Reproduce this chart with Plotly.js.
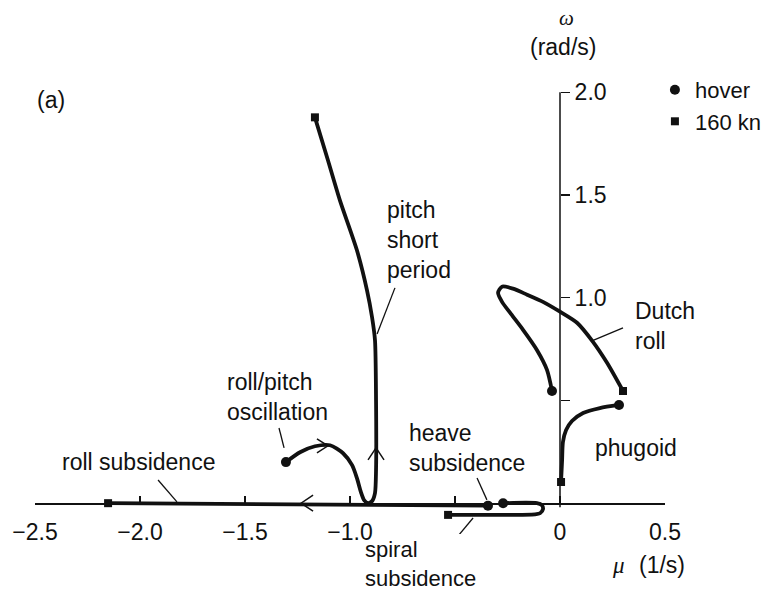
<!DOCTYPE html>
<html>
<head>
<meta charset="utf-8">
<script src="https://cdn.plot.ly/plotly-3.0.1.min.js"></script>
<style>
  html, body { margin: 0; padding: 0; background: #fff; }
  #chart { width: 764px; height: 598px; }
</style>
</head>
<body>
<div id="chart"></div>
<script>
// Root loci of the helicopter modes; each path runs from hover (first point) to 160 kn (last point).
// Real part mu (1/s) on x, frequency omega (rad/s) on y.

// roll/pitch oscillation at hover, becoming the pitch short period mode at speed
const pitchX = [-1.305, -1.238, -1.167, -1.095, -1.033, -0.990, -0.967, -0.948, -0.933, -0.914, -0.895,
                -0.881, -0.876, -0.876, -0.881, -0.895, -0.919, -0.967, -1.048, -1.105, -1.167];
const pitchY = [0.200, 0.248, 0.277, 0.282, 0.243, 0.185, 0.122, 0.054, 0.015, 0.000, 0.010,
                0.049, 0.161, 0.501, 0.793, 0.905, 1.036, 1.231, 1.474, 1.669, 1.878];

// Dutch roll
const dutchX = [-0.038, -0.062, -0.110, -0.176, -0.238, -0.276, -0.295, -0.276, -0.224, -0.157, -0.081,
                0.000, 0.081, 0.157, 0.224, 0.300];
const dutchY = [0.546, 0.649, 0.746, 0.844, 0.927, 0.980, 1.024, 1.054, 1.044, 1.015, 0.980,
                0.932, 0.878, 0.785, 0.683, 0.546];

// phugoid
const phugoidX = [0.281, 0.190, 0.110, 0.057, 0.029, 0.014, 0.010, 0.005];
const phugoidY = [0.478, 0.463, 0.439, 0.400, 0.356, 0.298, 0.210, 0.103];

// spiral subsidence (drawn just below the real axis on its way back)
const spiralX = [-0.271, -0.110, -0.086, -0.081, -0.095, -0.119, -0.533];
const spiralY = [0.000, 0.000, -0.010, -0.029, -0.049, -0.054, -0.057];

// heave and roll subsidence along the real axis
const realX = [-0.343, -2.152];
const realY = [-0.012, 0.000];

// direction-of-travel chevrons along the loci
const arrowX = [-1.105, -0.876, -1.233];
const arrowY = [0.279, 0.269, 0.000];
const arrowPaths = ['M -11,7 L 0,0 L -11,-7', 'M -8,-12 L 0,0 L 8,-12', 'M 12,8 L 0,0 L 12,-8'];

// axis ticks
const xTickVals = [-2.5, -2.0, -1.5, -1.0, -0.5, 0, 0.5];
const xTickText = ['\u22122.5', '\u22122.0', '\u22121.5', '\u22121.0', '', '0', '0.5'];
const yTickVals = [0.5, 1.0, 1.5, 2.0];
const yTickText = ['', '1.0', '1.5', '2.0'];

const paths = [
  [pitchX, pitchY, 'spline'],
  [dutchX, dutchY, 'spline'],
  [phugoidX, phugoidY, 'spline'],
  [spiralX, spiralY, 'spline'],
  [realX, realY, 'linear']
];

const ink = '#111';
const sans = 'Liberation Sans, Arial, Helvetica, sans-serif';
const serif = 'Liberation Serif, Times New Roman, serif';
const fs = 23;

const traces = paths.map(([x, y, shape]) => ({
  type: 'scatter', mode: 'lines', x: x, y: y, showlegend: false, hoverinfo: 'skip',
  line: { color: ink, width: 3.8, shape: shape, smoothing: 0.7 }
}));

traces.push({
  type: 'scatter', mode: 'markers', name: 'hover',
  x: paths.map(p => p[0][0]), y: paths.map(p => p[1][0]),
  marker: { symbol: 'circle', size: 10, color: ink }, cliponaxis: false
});
traces.push({
  type: 'scatter', mode: 'markers', name: '160 kn',
  x: paths.map(p => p[0][p[0].length - 1]), y: paths.map(p => p[1][p[1].length - 1]),
  marker: { symbol: 'square', size: 8, color: ink }, cliponaxis: false
});

// leader lines from the labels to the loci
const leaders = [
  [-0.786, 1.048, -0.871, 0.824],
  [0.300, 0.853, 0.152, 0.790],
  [-1.338, 0.366, -1.314, 0.269],
  [-0.395, 0.123, -0.348, 0.016],
  [-1.914, 0.113, -1.824, 0.006],
  [-0.414, -0.072, -0.533, -0.218]
];

const shapes = [
  { type: 'line', xref: 'x', yref: 'y', x0: 0, x1: 0, y0: -0.02, y1: 2.0, layer: 'below',
    line: { color: ink, width: 1.5 } }
];
leaders.forEach(([x0, y0, x1, y1]) => shapes.push({
  type: 'line', xref: 'x', yref: 'y', x0, y0, x1, y1, line: { color: ink, width: 1.3 }
}));
arrowX.forEach((x, i) => shapes.push({
  type: 'path', xref: 'x', yref: 'y', xsizemode: 'pixel', ysizemode: 'pixel',
  xanchor: x, yanchor: arrowY[i], path: arrowPaths[i], line: { color: ink, width: 1.5 }
}));

function label(text, x, y, xanchor, extra) {
  return Object.assign({
    text: text, x: x, y: y, xref: 'x', yref: 'y', xanchor: xanchor, yanchor: 'middle',
    align: 'left', showarrow: false, font: { family: sans, size: fs, color: ink }
  }, extra || {});
}
const onPaper = { xref: 'paper', yref: 'paper' };

const annotations = [
  label('(a)', -2.424, 1.963, 'center'),
  label('<i>\u03c9</i>', 0.8444, 1.1416, 'center',
        Object.assign({ font: { family: serif, size: 21, color: ink } }, onPaper)),
  label('(rad/s)', 0.8381, 1.0774, 'center', onPaper),
  label('pitch<br>short<br>period', -0.833, 1.281, 'left'),
  label('Dutch<br>roll', 0.348, 0.863, 'left'),
  label('roll/pitch<br>oscillation', -1.595, 0.519, 'left'),
  label('heave<br>subsidence', -0.729, 0.271, 'left'),
  label('phugoid', 0.157, 0.269, 'left'),
  label('roll subsidence', -2.381, 0.201, 'left'),
  label('spiral<br>subsidence', 0.5206, -0.0664, 'left',
        Object.assign({ font: { family: sans, size: 22, color: ink } }, onPaper)),
  label('<i>\u03bc</i>', 0.9254, -0.0686, 'center',
        Object.assign({ font: { family: serif, size: 23, color: ink } }, onPaper)),
  label('(1/s)', 0.9556, -0.0686, 'left', onPaper)
];

const layout = {
  width: 764, height: 598,
  margin: { l: 35, r: 99, t: 82, b: 64, autoexpand: false },
  paper_bgcolor: '#fff', plot_bgcolor: '#fff',
  font: { family: sans, size: fs, color: ink },
  showlegend: true,
  legend: {
    x: 0.984, xanchor: 'left', y: 1.029, yanchor: 'top',
    bgcolor: 'rgba(0,0,0,0)', borderwidth: 0, tracegroupgap: 0, itemwidth: 30,
    font: { family: sans, size: 22, color: ink }
  },
  xaxis: {
    range: [-2.5, 0.5], anchor: 'free', position: 0.15 / 2.2,
    showline: true, linecolor: ink, linewidth: 1.5,
    ticks: 'inside', ticklen: 7, tickwidth: 1.5, tickcolor: ink,
    tickmode: 'array', tickvals: xTickVals, ticktext: xTickText,
    tickfont: { family: sans, size: fs, color: ink }, ticklabelstandoff: 8,
    showgrid: false, zeroline: false, fixedrange: true
  },
  yaxis: {
    range: [-0.15, 2.05], anchor: 'free', position: 2.5 / 3, side: 'right',
    showline: false,
    ticks: 'outside', ticklen: 9, tickwidth: 1.5, tickcolor: ink,
    tickmode: 'array', tickvals: yTickVals, ticktext: yTickText,
    tickfont: { family: sans, size: fs, color: ink }, ticklabelstandoff: 0,
    showgrid: false, zeroline: false, fixedrange: true
  },
  shapes: shapes,
  annotations: annotations
};

Plotly.newPlot('chart', traces, layout, { displayModeBar: false, staticPlot: true });
</script>
</body>
</html>
